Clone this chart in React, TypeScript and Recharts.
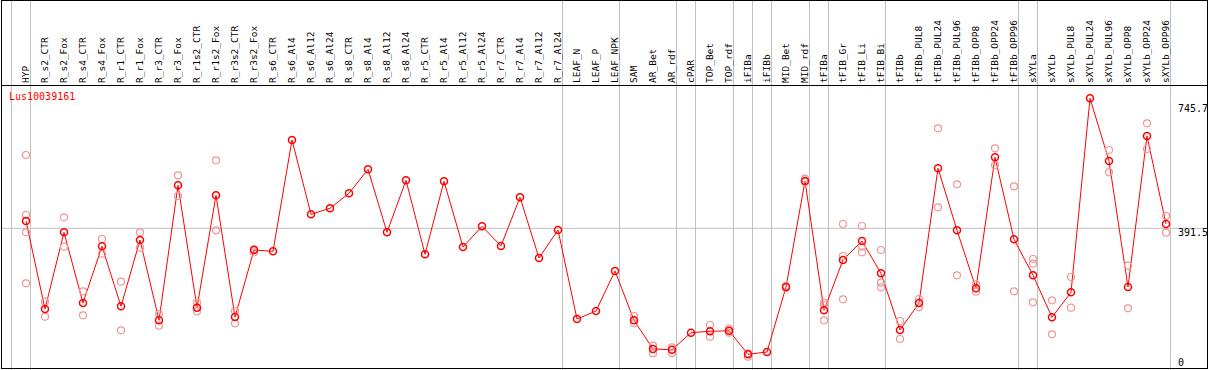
import React from 'react';
import { ComposedChart, Line, XAxis, YAxis, ReferenceLine } from 'recharts';

const geneLabel = 'Lus10039161';

const categories = [
  'HYP', 'R_s2_CTR', 'R_s2_Fox', 'R_s4_CTR', 'R_s4_Fox', 'R_r1_CTR', 'R_r1_Fox', 'R_r3_CTR', 'R_r3_Fox',
  'R_r1s2_CTR', 'R_r1s2_Fox', 'R_r3s2_CTR', 'R_r3s2_Fox', 'R_s6_CTR', 'R_s6_Al4', 'R_s6_Al12', 'R_s6_Al24',
  'R_s8_CTR', 'R_s8_Al4', 'R_s8_Al12', 'R_s8_Al24', 'R_r5_CTR', 'R_r5_Al4', 'R_r5_Al12', 'R_r5_Al24',
  'R_r7_CTR', 'R_r7_Al4', 'R_r7_Al12', 'R_r7_Al24', 'LEAF_N', 'LEAF_P', 'LEAF_NPK', 'SAM', 'AR_Bet', 'AR_rdf',
  'cPAR', 'TOP_Bet', 'TOP_rdf', 'iFIBa', 'iFIBb', 'MID_Bet', 'MID_rdf', 'tFIBa', 'tFIB_Gr', 'tFIB_Li', 'tFIB_Bi',
  'tFIBb', 'tFIBb_PUL8', 'tFIBb_PUL24', 'tFIBb_PUL96', 'tFIBb_OPP8', 'tFIBb_OPP24', 'tFIBb_OPP96', 'sXYLa',
  'sXYLb', 'sXYLb_PUL8', 'sXYLb_PUL24', 'sXYLb_PUL96', 'sXYLb_OPP8', 'sXYLb_OPP24', 'sXYLb_OPP96',
];

const meanValues = [
  411.4, 171.7, 380.6, 188.0, 342.5, 179.0, 359.7, 140.9, 508.7,
  175.2, 481.4, 149.9, 332.4, 328.9, 632.1, 429.7, 446.0,
  486.9, 552.3, 380.6, 522.3, 320.7, 519.6, 340.6, 397.0,
  343.3, 476.0, 310.6, 386.9, 144.4, 166.2, 275.2, 140.9, 62.7, 60.8,
  107.1, 110.9, 112.5, 48.2, 54.5, 231.6, 520.4, 168.1, 305.2, 356.9, 268.9,
  114.4, 188.0, 555.0, 386.1, 228.1, 585.0, 361.6, 263.5,
  149.0, 217.2, 745.7, 574.9, 231.6, 643.0, 403.2,
];

const replicateValues: number[][] = [
  [591.2, 427.8, 380.6, 241.7], [191.5, 150.7], [421.5, 341.4], [219.9, 154.5], [362.4, 322.3],
  [246.0, 113.6], [380.6, 338.7], [158.0, 126.2], [535.9, 479.5], [188.8, 165.4], [576.8, 386.1],
  [166.2, 132.7], [335.1, 326.1], [], [], [], [],
  [], [], [], [], [], [], [], [],
  [], [], [], [], [], [], [], [152.6, 132.7], [71.7, 51.0], [67.3, 51.0],
  [], [128.1, 96.2], [118.0, 107.1], [51.0, 41.7], [], [234.3, 228.9], [526.7, 517.7], [188.8, 182.6, 140.9],
  [403.2, 316.1, 198.1], [397.8, 341.4, 326.1], [332.4, 243.3, 230.8],
  [139.0, 89.9], [198.9, 176.3], [664.0, 448.8], [511.4, 263.5], [239.0, 218.8], [609.5, 564.0],
  [506.0, 219.9], [307.9, 295.1, 189.9],
  [195.4, 102.7], [258.8, 175.2], [], [604.9, 544.1], [289.6, 173.6], [677.6, 607.6], [425.0, 379.5],
];

const valueTicks = [0, 391.5, 745.7];
const referenceValue = 391.5;
const groupEnds = [-1, 0, 28, 31, 34, 35, 37, 38, 39, 41, 42, 45, 52, 53, 60];

// layout
const CHART_W = 1209;
const CHART_H = 372;
const HEADER_H = 85.5;
const PLOT_LEFT = 2;
const PLOT_RIGHT_MARGIN = 2;
const STEP_PX = 19;
const FIRST_PX = 26;
const X_MIN = -(FIRST_PX - PLOT_LEFT) / STEP_PX;
const X_MAX = X_MIN + (CHART_W - PLOT_LEFT - PLOT_RIGHT_MARGIN) / STEP_PX;
const Y_MAX = 780.6;
const SEP_OFFSET = 4.5 / STEP_PX;
const VALUE_LABEL_X = CHART_W - PLOT_RIGHT_MARGIN - 29;

const RED = '#ff0000';
const FAINT = '#f09696';
const GRID = '#c0c0c0';
const MONO = '"DejaVu Sans Mono", monospace';

const MAX_REPS = 4;
const rows = categories.map((name, i) => {
  const row: Record<string, any> = { idx: i, name, mean: meanValues[i] };
  for (let k = 0; k < MAX_REPS; k++) {
    const v = replicateValues[i][k];
    row['rep' + k] = v === undefined ? null : v;
  }
  return row;
});

const HeaderTick = (props: any) => {
  const { x, y, payload } = props;
  const ty = y - 2.5;
  return (
    <text
      x={x}
      y={ty}
      dy="0.33em"
      transform={`rotate(-90 ${x} ${ty})`}
      textAnchor="start"
      fontSize={9.5}
      fontFamily={MONO}
      fill="#000"
    >
      {categories[payload.value]}
    </text>
  );
};

const ValueTick = (props: any) => {
  const { y, payload } = props;
  const base = Math.min(Math.max(y + 7.4, 111.7), 365.7);
  return (
    <text x={VALUE_LABEL_X} y={base} textAnchor="start" fontSize={10} fontFamily={MONO} fill="#000">
      {payload.value}
    </text>
  );
};

const SeparatorShape = (props: any) => {
  const { x1, x2, y1, y2 } = props;
  return <line x1={x1} x2={x2} y1={0} y2={Math.max(y1, y2)} stroke={GRID} strokeWidth={1} />;
};

const faintDot = { r: 3.5, stroke: FAINT, strokeWidth: 1.2, fill: 'none' };
const meanDot = { r: 3.5, stroke: RED, strokeWidth: 1.5, fill: 'none' };

export default function App() {
  return (
    <div style={{ position: 'absolute', left: 0, top: 0, width: 1209, height: 370, overflow: 'hidden', background: '#fff' }}>
      <ComposedChart
        width={CHART_W}
        height={CHART_H}
        data={rows}
        margin={{ top: 0, right: PLOT_RIGHT_MARGIN, bottom: 0, left: PLOT_LEFT }}
      >
        <XAxis
          dataKey="idx"
          type="number"
          orientation="top"
          height={HEADER_H}
          domain={[X_MIN, X_MAX]}
          allowDataOverflow
          ticks={categories.map((_, i) => i)}
          interval={0}
          tick={<HeaderTick />}
          tickLine={false}
          tickSize={0}
          tickMargin={0}
          axisLine={{ stroke: '#000', strokeWidth: 1 }}
        />
        <YAxis
          orientation="right"
          mirror
          width={40}
          type="number"
          domain={[0, Y_MAX]}
          allowDataOverflow
          ticks={valueTicks}
          interval={0}
          tick={<ValueTick />}
          tickLine={false}
          tickSize={0}
          tickMargin={0}
          axisLine={false}
        />
        <ReferenceLine y={referenceValue} stroke={GRID} strokeWidth={1} />
        {groupEnds.map((g) => (
          <ReferenceLine key={'sep' + g} x={g + SEP_OFFSET} stroke={GRID} shape={<SeparatorShape />} />
        ))}
        {Array.from({ length: MAX_REPS }, (_, k) => (
          <Line
            key={'rep' + k}
            dataKey={'rep' + k}
            stroke="none"
            dot={faintDot}
            activeDot={false}
            isAnimationActive={false}
            legendType="none"
          />
        ))}
        <Line
          dataKey="mean"
          stroke={RED}
          strokeWidth={1}
          dot={meanDot}
          activeDot={false}
          isAnimationActive={false}
        />
      </ComposedChart>
      <div
        style={{
          position: 'absolute', left: 9, top: 92, fontFamily: MONO, fontSize: 10, lineHeight: '10px',
          color: RED, whiteSpace: 'nowrap',
        }}
      >
        {geneLabel}
      </div>
      <div
        style={{
          position: 'absolute', left: 1, top: 0, width: 1207, height: 369, border: '1px solid #000',
          boxSizing: 'border-box', pointerEvents: 'none',
        }}
      />
    </div>
  );
}
